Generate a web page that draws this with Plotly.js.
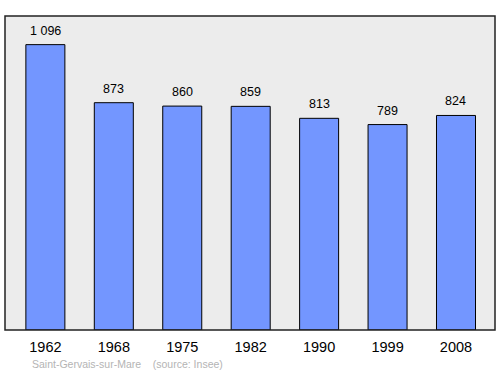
<!DOCTYPE html>
<html><head><meta charset="utf-8">
<script src="https://cdn.plot.ly/plotly-3.0.1.min.js"></script>
<style>body{margin:0;padding:0;background:#fff}#c{width:500px;height:374px}</style>
</head><body><div id="c"></div>
<script>
const years = ['1962','1968','1975','1982','1990','1999','2008'];
const population = [1096, 873, 860, 859, 813, 789, 824];
const labels = ['1 096','873','860','859','813','789','824'];
const caption = 'Saint-Gervais-sur-Mare &nbsp;&nbsp; (source: Insee)';

const trace = {
  type: 'bar', x: years, y: population, width: 0.57,
  marker: {color: '#7396ff', line: {color: '#000', width: 1}},
  hoverinfo: 'none'
};
const ann = years.map((yr, i) => ({
  x: i, y: population[i], text: labels[i], showarrow: false,
  yanchor: 'bottom', yshift: 5, font: {family: 'Liberation Sans, Arial, sans-serif', size: 12.5, color: '#000'}
}));
ann.push({xref: 'paper', yref: 'paper', x: 0.052, y: -0.108, xanchor: 'left', yanchor: 'middle',
  text: caption, showarrow: false, font: {family: 'Liberation Sans, Arial, sans-serif', size: 10.5, color: '#b4b4b4'}});

const layout = {
  width: 500, height: 374,
  margin: {l: 5, r: 5, t: 16, b: 44},
  paper_bgcolor: '#fff', plot_bgcolor: '#ececec',
  showlegend: false,
  xaxis: {type: 'category', range: [-0.59, 6.57], showgrid: false, zeroline: false, ticks: '',
    ticklabelstandoff: 6,
    tickfont: {family: 'Liberation Sans, Arial, sans-serif', size: 14.5, color: '#000'}, fixedrange: true},
  yaxis: {range: [0, 1206], showgrid: false, zeroline: false, showticklabels: false, ticks: '', fixedrange: true},
  annotations: ann,
  shapes: [{type: 'rect', xref: 'paper', yref: 'paper', x0: 0, x1: 1, y0: 0, y1: 1,
    line: {color: '#222', width: 1.5}, fillcolor: 'rgba(0,0,0,0)'}]
};
Plotly.newPlot('c', [trace], layout, {staticPlot: true, displayModeBar: false});
</script></body></html>
